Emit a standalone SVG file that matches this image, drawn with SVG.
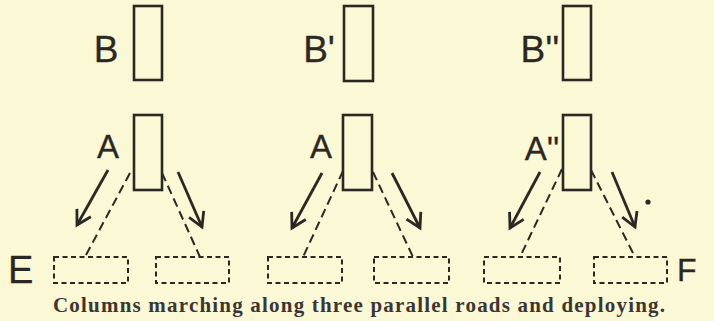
<svg xmlns="http://www.w3.org/2000/svg" width="714" height="321" viewBox="0 0 714 321">
<defs>
<style>
.col{fill:none;stroke:#2b2824;stroke-width:2.6}
.dep{fill:none;stroke:#2b2824;stroke-width:2;stroke-dasharray:5 3.5}
.road{fill:none;stroke:#2b2824;stroke-width:2;stroke-dasharray:9 5}
.arr{fill:none;stroke:#2b2824;stroke-width:2.8;marker-end:url(#v)}
.lbl{font-family:"Liberation Sans",Arial,sans-serif;fill:#2b2824;stroke:#2b2824;stroke-width:0.3}
.cap{font-family:"Liberation Serif","Times New Roman",serif;font-weight:bold;font-size:21px;fill:#3b3631}
</style>
<marker id="v" viewBox="-16 -10 20 20" markerWidth="20" markerHeight="20" refX="0" refY="0" orient="auto" markerUnits="userSpaceOnUse">
<path d="M -14 -8 L 0 0 L -14 8" fill="none" stroke="#2b2824" stroke-width="2.8" stroke-linejoin="miter"/>
</marker>
</defs>
<rect width="714" height="321" fill="#fbf8d6"/>
<g id="connectors">
<path class="arr" d="M108 170 L77 225"/>
<path class="arr" d="M178 172 L202 227"/>
<path class="road" d="M130 173 L86 255"/>
<path class="road" d="M162 173 L200 257"/>
<path class="arr" d="M322 173 L292 228"/>
<path class="arr" d="M392 173 L420 228"/>
<path class="road" d="M343 171 L303 257"/>
<path class="road" d="M373 172 L413 257"/>
<path class="arr" d="M540 172 L510 228"/>
<path class="arr" d="M612 172 L635 227"/>
<path class="road" d="M562 169 L520 257"/>
<path class="road" d="M591 170 L635 257"/>
</g>
<g id="col-B"><rect class="col" x="134" y="6" width="28" height="74"/><text class="lbl" x="106" y="62" font-size="37" text-anchor="middle">B</text></g>
<g id="col-A"><rect class="col" x="134" y="115" width="28" height="75"/><text class="lbl" x="108" y="158" font-size="33" text-anchor="middle">A</text></g>
<g id="col-B1"><rect class="col" x="344" y="6" width="29" height="75"/><text class="lbl" x="319" y="62" font-size="37" text-anchor="middle">B'</text></g>
<g id="col-A1"><rect class="col" x="343" y="115" width="29" height="75"/><text class="lbl" x="321" y="158" font-size="33" text-anchor="middle">A</text></g>
<g id="col-B2"><rect class="col" x="563" y="6" width="28" height="74"/><text class="lbl" x="540" y="62" font-size="37" text-anchor="middle">B''</text></g>
<g id="col-A2"><rect class="col" x="563" y="115" width="28" height="75"/><text class="lbl" x="542" y="160" font-size="33" text-anchor="middle">A''</text></g>
<g id="dep-1"><rect class="dep" x="54" y="257" width="74" height="26"/></g>
<g id="dep-2"><rect class="dep" x="156" y="257" width="73" height="26"/></g>
<g id="dep-3"><rect class="dep" x="268" y="257" width="74" height="26"/></g>
<g id="dep-4"><rect class="dep" x="374" y="257" width="75" height="26"/></g>
<g id="dep-5"><rect class="dep" x="484" y="257" width="76" height="26"/></g>
<g id="dep-6"><rect class="dep" x="594" y="257" width="73" height="26"/></g>
<g id="E"><text class="lbl" x="8" y="283" font-size="38">E</text></g>
<g id="F"><text class="lbl" x="677" y="281" font-size="32">F</text></g>
<circle cx="648" cy="202" r="2.6" fill="#2b2824"/>
<text class="cap" x="53" y="312" textLength="612" lengthAdjust="spacing">Columns marching along three parallel roads and deploying.</text>
</svg>
